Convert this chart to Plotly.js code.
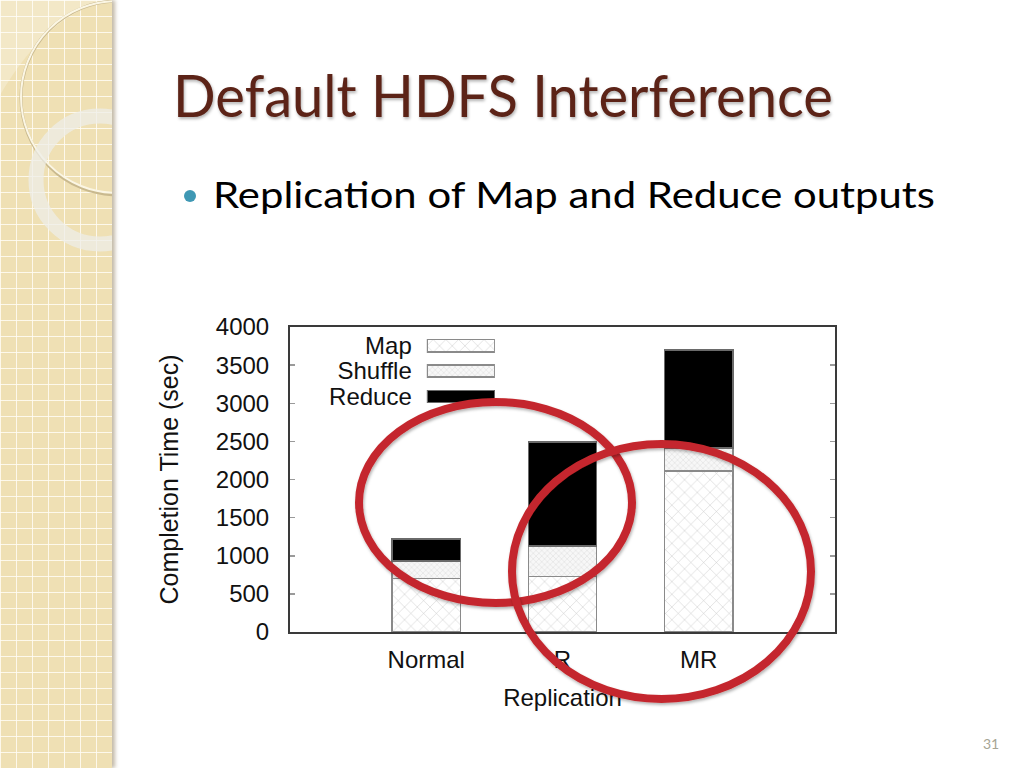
<!DOCTYPE html>
<html>
<head>
<meta charset="utf-8">
<script src="https://cdn.plot.ly/plotly-3.0.1.min.js"></script>
<style>
  html, body { margin:0; padding:0; width:1024px; height:768px; overflow:hidden; background:#ffffff; }
  #strip {
    position:absolute; left:0; top:0; width:112px; height:768px;
    background-color:#efe0b4;
    background-image:
      linear-gradient(to right, rgba(255,253,245,0.85) 1.5px, transparent 1.5px),
      linear-gradient(to bottom, rgba(255,253,245,0.85) 1.5px, transparent 1.5px);
    background-size:16px 16px;
    box-shadow: 3px 0 4px rgba(120,100,60,0.45);
    overflow:hidden;
  }
  #strip svg { position:absolute; left:0; top:0; }
  #texts { position:absolute; left:0; top:0; }
  #chart { position:absolute; left:0; top:0; width:1024px; height:768px; }
  #marks { position:absolute; left:0; top:0; pointer-events:none; }
</style>
</head>
<body>
<div id="strip">
  <svg width="112" height="768">
    <path d="M 0 95 Q 50 10 112 0 L 0 0 Z" fill="rgba(255,255,255,0.25)"/>
    <circle cx="118" cy="98" r="97" fill="none" stroke="#c9b98e" stroke-width="3"/>
    <circle cx="117" cy="97" r="96" fill="none" stroke="#fbf6e4" stroke-width="2"/>
    <circle cx="100" cy="180" r="64" fill="none" stroke="rgba(238,238,232,0.75)" stroke-width="15"/>
  </svg>
</div>
<svg id="texts" width="1024" height="768">
  <text x="173" y="117" font-family="Lato" font-size="58" fill="#5c2317" textLength="660" lengthAdjust="spacingAndGlyphs" style="filter: drop-shadow(1px 2px 1.5px rgba(0,0,0,0.3));">Default HDFS Interference</text>
  <circle cx="190" cy="196" r="6" fill="#3f98b4"/>
  <text x="213" y="208" font-family="Lato" font-size="37" fill="#000000" textLength="722" lengthAdjust="spacingAndGlyphs">Replication of Map and Reduce outputs</text>
  <text x="991" y="749" font-family="Lato" font-size="14" fill="#a6a594" text-anchor="middle">31</text>
</svg>
<div id="chart"></div>
<svg id="marks" width="1024" height="768">
  <defs>
    <filter id="sh" x="-10%" y="-10%" width="120%" height="120%">
      <feDropShadow dx="1" dy="2" stdDeviation="1.5" flood-color="#000" flood-opacity="0.3"/>
    </filter>
  </defs>
  <ellipse cx="495.5" cy="502.5" rx="136.5" ry="100.5" fill="none" stroke="#c4282d" stroke-width="8" filter="url(#sh)"/>
  <ellipse cx="661.5" cy="571.5" rx="149.5" ry="127.5" fill="none" stroke="#c4282d" stroke-width="8" filter="url(#sh)"/>
</svg>
<script>
// ---- data ----
const categories = ['Normal', 'R', 'MR'];
const mapTime = [700, 725, 2110];
const shuffleTime = [230, 405, 305];
const reduceTime = [290, 1360, 1285];
const seriesNames = ['Map', 'Shuffle', 'Reduce'];
const yTickValues = [0, 500, 1000, 1500, 2000, 2500, 3000, 3500, 4000];

// ---- styles ----
const FONT = 'Liberation Sans, Arial, sans-serif';
const styles = {
  Map: { color:'#ffffff', line:{color:'#8a8a8a', width:1.5},
         pattern:{shape:'x', fgcolor:'#c4c4c4', bgcolor:'#ffffff', size:9, solidity:0.1} },
  Shuffle: { color:'#ffffff', line:{color:'#8a8a8a', width:1.5},
         pattern:{shape:'x', fgcolor:'#d4d4d4', bgcolor:'#f7f7f7', size:4, solidity:0.2} },
  Reduce: { color:'#000000', line:{color:'#6a6a6a', width:1.5} }
};
const values = { Map: mapTime, Shuffle: shuffleTime, Reduce: reduceTime };

const traces = [];
seriesNames.forEach(name => {
  traces.push({
    type:'bar', name:name, x:categories, y:values[name], width:0.5,
    marker:styles[name], showlegend:false, hoverinfo:'skip'
  });
});
// legend built as a small bar chart (swatches right of labels)
seriesNames.forEach(name => {
  traces.push({
    type:'bar', orientation:'h', x:[1], y:[name], width:0.48,
    xaxis:'x2', yaxis:'y2', marker:styles[name], showlegend:false, hoverinfo:'skip'
  });
});

const layout = {
  width:1024, height:768,
  margin:{l:290, r:189, t:327, b:136, pad:0},
  paper_bgcolor:'rgba(0,0,0,0)', plot_bgcolor:'#ffffff',
  barmode:'stack', showlegend:false,
  font:{family:FONT, size:24, color:'#111111'},
  xaxis:{
    type:'category', range:[-1, 3], showgrid:false, zeroline:false,
    showline:true, mirror:true, linecolor:'#3a3a3a', linewidth:2,
    ticks:'outside', ticklen:5, tickcolor:'rgba(0,0,0,0)',
    tickfont:{family:FONT, size:24, color:'#111'},
    title:{text:'Replication', standoff:17, font:{family:FONT, size:24, color:'#111'}}
  },
  yaxis:{
    range:[0, 4000], tickvals:yTickValues, showgrid:false, zeroline:false,
    showline:true, mirror:'ticks', linecolor:'#3a3a3a', linewidth:2,
    ticks:'inside', ticklen:5, tickcolor:'#9a9a9a', tickwidth:1.5,
    ticklabelstandoff:14,
    tickfont:{family:FONT, size:24, color:'#111'},
    title:{text:'Completion Time (sec)', standoff:30, font:{family:FONT, size:25, color:'#111'}}
  },
  xaxis2:{domain:[0.251, 0.376], range:[0, 1], visible:false, anchor:'y2', fixedrange:true},
  yaxis2:{domain:[0.731, 0.980], anchor:'x2', type:'category',
    categoryorder:'array', categoryarray:seriesNames.slice().reverse(),
    tickmode:'array', tickvals:seriesNames, ticktext:seriesNames,
    showgrid:false, zeroline:false, showline:false, ticks:'',
    ticklabelstandoff:14, tickfont:{family:FONT, size:24, color:'#111'}}
};

Plotly.newPlot('chart', traces, layout, {staticPlot:true, displayModeBar:false});
</script>
</body>
</html>
